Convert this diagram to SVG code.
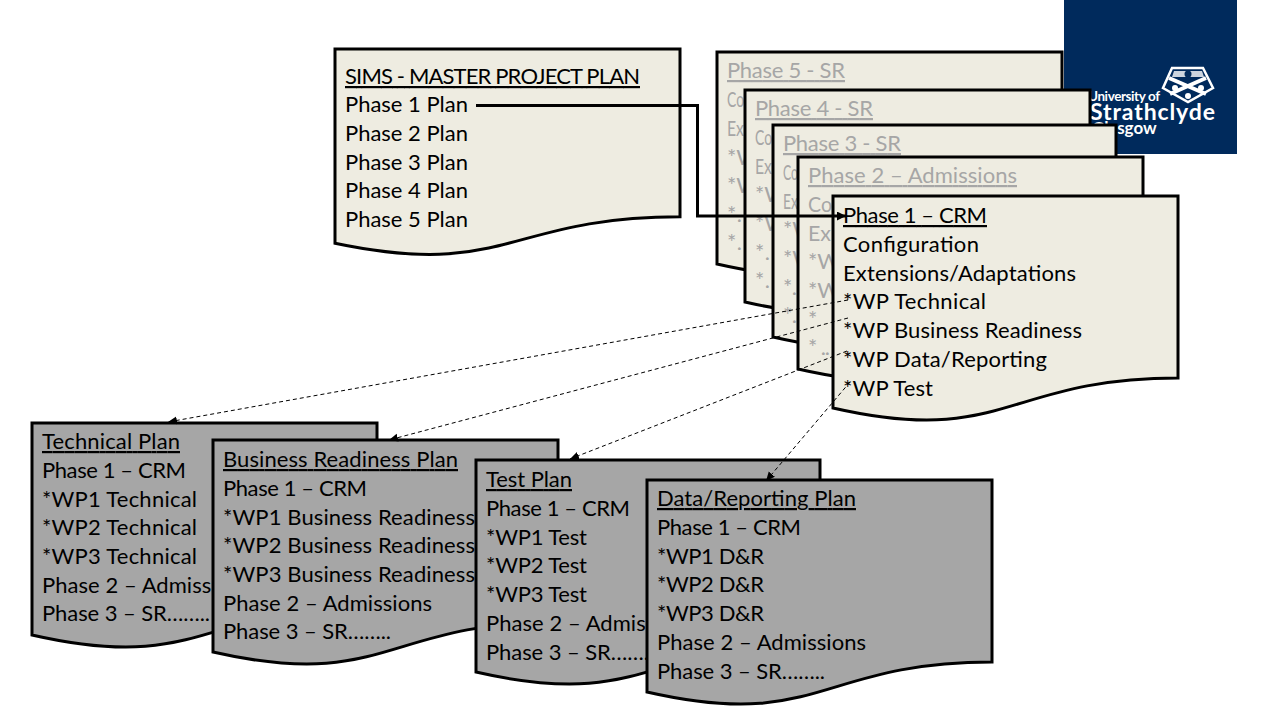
<svg xmlns="http://www.w3.org/2000/svg" width="1280" height="720" viewBox="0 0 1280 720">
<style>
text{font-family:Lato,"Open Sans","Liberation Sans",sans-serif;font-size:22px;fill:#000}
.doc{stroke:#000;stroke-width:3;stroke-linejoin:miter}
.cream{fill:#eeece1}
.grey{fill:#a6a6a6}
.ghost text{fill:#a6a6a6}
.u{text-decoration:underline}
.dash{fill:none;stroke:#000;stroke-width:1;stroke-dasharray:4 3;marker-end:url(#sm)}
.solid{fill:none;stroke:#000;stroke-width:3;marker-end:url(#lg)}
.lg{fill:#fff;font-weight:700}
</style>
<defs>
<marker id="sm" markerUnits="userSpaceOnUse" markerWidth="12" markerHeight="12" refX="9" refY="4" orient="auto"><path d="M0 0L9 4L0 8z" fill="#000"/></marker>
<marker id="lg" markerUnits="userSpaceOnUse" markerWidth="12" markerHeight="12" refX="9" refY="4.5" orient="auto"><path d="M0 0L9 4.5L0 9z" fill="#000"/></marker>
</defs>
<rect width="1280" height="720" fill="#fff"/>
<g id="logo">
<rect x="1064" y="0" width="173" height="154" fill="#002a5c"/>
<path d="M1172 68H1203L1213 88L1188 102L1163 88Z" fill="#002a5c" stroke="#fff" stroke-width="2.5"/>
<path d="M1174 71H1202L1204 77H1172Z" fill="#fff" opacity=".8"/>
<circle cx="1188" cy="74" r="3.5" fill="#002a5c"/>
<path d="M1169 78L1206 94M1206 78L1170 94" stroke="#fff" stroke-width="4"/>
<circle cx="1175" cy="88" r="3" fill="#fff"/><circle cx="1201" cy="88" r="3" fill="#fff"/><circle cx="1188" cy="96" r="3" fill="#fff"/>
<text class="lg" x="1088" y="101" textLength="72" style="font-size:13.5px">University of</text>
<text class="lg" x="1090" y="120" textLength="125" style="font-size:23px">Strathclyde</text>
<text class="lg" x="1092" y="134" style="font-size:17px">Glasgow</text>
</g>
<g id="master">
<path class="doc cream" d="M335 49H680V216.800C507.500 216.800 507.500 279.400 335 243.300Z"/>
<text class="u" x="345" y="84" textLength="295">SIMS - MASTER PROJECT PLAN</text>
<text x="345" y="112" textLength="123">Phase 1 Plan</text>
<text x="345" y="141" textLength="123">Phase 2 Plan</text>
<text x="345" y="170" textLength="123">Phase 3 Plan</text>
<text x="345" y="198" textLength="123">Phase 4 Plan</text>
<text x="345" y="227" textLength="123">Phase 5 Plan</text>
</g>
<g id="phase5" class="ghost">
<path class="doc cream" d="M717 52H1062V234C889.500 234 889.500 303.400 717 264Z"/>
<text class="u" x="727" y="78" textLength="118">Phase 5 - SR</text>
<text x="727" y="107" textLength="17" lengthAdjust="spacingAndGlyphs">Co</text><text x="727" y="136" textLength="17" lengthAdjust="spacingAndGlyphs">Ex</text><text x="727" y="165">*W</text><text x="727" y="193">*W</text><text x="727" y="222" textLength="15">* .</text><text x="727" y="250" textLength="15">* .</text>
</g>
<g id="phase4" class="ghost">
<path class="doc cream" d="M745 90H1090V272C917.500 272 917.500 341.400 745 302Z"/>
<text class="u" x="755" y="116" textLength="118">Phase 4 - SR</text>
<text x="755" y="145" textLength="17" lengthAdjust="spacingAndGlyphs">Co</text><text x="755" y="174" textLength="17" lengthAdjust="spacingAndGlyphs">Ex</text><text x="755" y="202">*W</text><text x="755" y="231">*W</text><text x="755" y="260" textLength="15">* .</text><text x="755" y="288" textLength="15">* .</text>
</g>
<g id="phase3" class="ghost">
<path class="doc cream" d="M773 125H1116V307C944.500 307 944.500 376.400 773 337Z"/>
<text class="u" x="783" y="151" textLength="118">Phase 3 - SR</text>
<text x="783" y="180" textLength="15" lengthAdjust="spacingAndGlyphs">Co</text><text x="783" y="209" textLength="15" lengthAdjust="spacingAndGlyphs">Ex</text><text x="783" y="237">*W</text><text x="783" y="266">*W</text><text x="783" y="295" textLength="14">* .</text><text x="783" y="323" textLength="14">* .</text>
</g>
<g id="phase2" class="ghost">
<path class="doc cream" d="M798 157H1143V339C970.500 339 970.500 408.400 798 369Z"/>
<text class="u" x="808" y="183" textLength="209">Phase 2 – Admissions</text>
<text x="808" y="212" textLength="24" lengthAdjust="spacingAndGlyphs">Co</text><text x="808" y="241" textLength="23" lengthAdjust="spacingAndGlyphs">Ex</text><text x="808" y="269">*W</text><text x="808" y="298">*W</text><text x="808" y="327">*</text><text x="808" y="355" textLength="22">* ..</text>
</g>
<g id="phase1">
<path class="doc cream" d="M833 196H1178V378C1005.500 378 1005.500 447.400 833 408Z"/>
<text class="u" x="843" y="223" textLength="144">Phase 1 – CRM</text>
<text x="843" y="252" textLength="136">Configuration</text>
<text x="843" y="281" textLength="233">Extensions/Adaptations</text>
<text x="843" y="309" textLength="143">*WP Technical</text>
<text x="843" y="338" textLength="239">*WP Business Readiness</text>
<text x="843" y="367" textLength="204">*WP Data/Reporting</text>
<text x="843" y="396" textLength="90">*WP Test</text>
</g>
<g id="technical">
<path class="doc grey" d="M32 423H377V605C204.500 605 204.500 674.400 32 635Z"/>
<text class="u" x="42" y="449" textLength="138">Technical Plan</text>
<text x="42" y="478" textLength="144">Phase 1 – CRM</text>
<text x="42" y="507" textLength="155">*WP1 Technical</text>
<text x="42" y="535" textLength="155">*WP2 Technical</text>
<text x="42" y="564" textLength="155">*WP3 Technical</text>
<text x="42" y="593" textLength="209">Phase 2 – Admissions</text>
<text x="42" y="621" textLength="168">Phase 3 – SR……..</text>
</g>
<g id="business">
<path class="doc grey" d="M213 440H558V622C385.500 622 385.500 691.400 213 652Z"/>
<text class="u" x="223" y="467" textLength="235">Business Readiness Plan</text>
<text x="223" y="496" textLength="144">Phase 1 – CRM</text>
<text x="223" y="525" textLength="252">*WP1 Business Readiness</text>
<text x="223" y="553" textLength="252">*WP2 Business Readiness</text>
<text x="223" y="582" textLength="252">*WP3 Business Readiness</text>
<text x="223" y="611" textLength="209">Phase 2 – Admissions</text>
<text x="223" y="639" textLength="168">Phase 3 – SR……..</text>
</g>
<g id="test">
<path class="doc grey" d="M476 460H820V642C648 642 648 711.400 476 672Z"/>
<text class="u" x="486" y="487" textLength="86">Test Plan</text>
<text x="486" y="516" textLength="144">Phase 1 – CRM</text>
<text x="486" y="545" textLength="101">*WP1 Test</text>
<text x="486" y="573" textLength="101">*WP2 Test</text>
<text x="486" y="602" textLength="101">*WP3 Test</text>
<text x="486" y="631" textLength="209">Phase 2 – Admissions</text>
<text x="486" y="660" textLength="168">Phase 3 – SR……..</text>
</g>
<g id="data">
<path class="doc grey" d="M647 480H992V662C819.500 662 819.500 731.400 647 692Z"/>
<text class="u" x="657" y="506" textLength="199">Data/Reporting Plan</text>
<text x="657" y="535" textLength="144">Phase 1 – CRM</text>
<text x="657" y="564" textLength="107">*WP1 D&amp;R</text>
<text x="657" y="592" textLength="107">*WP2 D&amp;R</text>
<text x="657" y="621" textLength="107">*WP3 D&amp;R</text>
<text x="657" y="650" textLength="209">Phase 2 – Admissions</text>
<text x="657" y="679" textLength="168">Phase 3 – SR……..</text>
</g>
<g id="connectors">
<path class="solid" d="M476 105.500H697.500V216H846"/>
<path class="dash" d="M848 300L168 422"/>
<path class="dash" d="M848 318L389 440"/>
<path class="dash" d="M847 351L570 459"/>
<path class="dash" d="M850 382L766 481"/>
</g>
</svg>
